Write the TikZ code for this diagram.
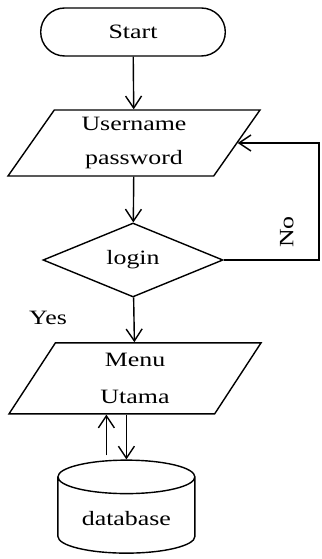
\documentclass[tikz,border=0pt]{standalone}
\usepackage{fontspec}
\setmainfont[FakeStretch=1.27]{Liberation Serif}
\usepackage{tikz}
\usetikzlibrary{positioning, shapes.geometric, shapes.misc, arrows.meta, calc}

\begin{document}
\begin{tikzpicture}[
        >={Straight Barb[length=3mm, width=4mm]},
        every node/.style={font=\fontsize{14.5}{24}\selectfont},
        terminal/.style={draw, rounded rectangle, line width=1pt, minimum width=4.85cm, minimum height=1.2cm},
        io/.style={draw, trapezium, trapezium left angle=48, trapezium right angle=132, trapezium stretches body=true, line width=1pt, minimum width=6.3cm, minimum height=1.65cm, align=center, inner sep=0pt},
        decision/.style={draw, diamond, aspect=2.43, line width=1pt, minimum width=4.5cm, minimum height=1.85cm, inner sep=0pt},
        storage/.style={draw, cylinder, shape border rotate=90, aspect=0.34, line width=1pt, minimum width=3.425cm, minimum height=2.325cm}
    ]
        \useasboundingbox (0,0) rectangle (8.025,-13.975);

        % Nodes
        \node (start) [terminal] at (3.325,-0.8) {Start};
        \node (input) [io] at (3.35,-3.575) {Username\\password};
        \node (login) [decision] at (3.325,-6.5) {login};
        \node (menu) [io, minimum height=1.775cm, font=\fontsize{14.5}{27}\selectfont] at (3.375,-9.46) {Menu\\Utama};
        \node (db) [storage] at (3.16,-12.96) {database};
        \coordinate (noc) at (7.975,-6.5);

        % Arrows
        \draw [->, line width=1pt] (start) -- (input);
        \draw [->, line width=1pt] (input) -- (login);
        \draw [->, line width=1pt] (login) -- (menu);
        \node (yes) at (1.2,-7.95) {Yes};
        \draw [->, line width=1pt] (login.east) -- (noc) |- node[pos=0.12, left=0.5cm, rotate=90, anchor=south] {No} (input.east);
        \draw [->, line width=1pt] (menu.south -| db.north) -- (db.north);
        \draw [->, line width=1pt] ($(db.north)+(-0.5,0.1)$) -- ($(menu.south -| db.north)+(-0.5,0)$);
    \end{tikzpicture}
\end{document}
